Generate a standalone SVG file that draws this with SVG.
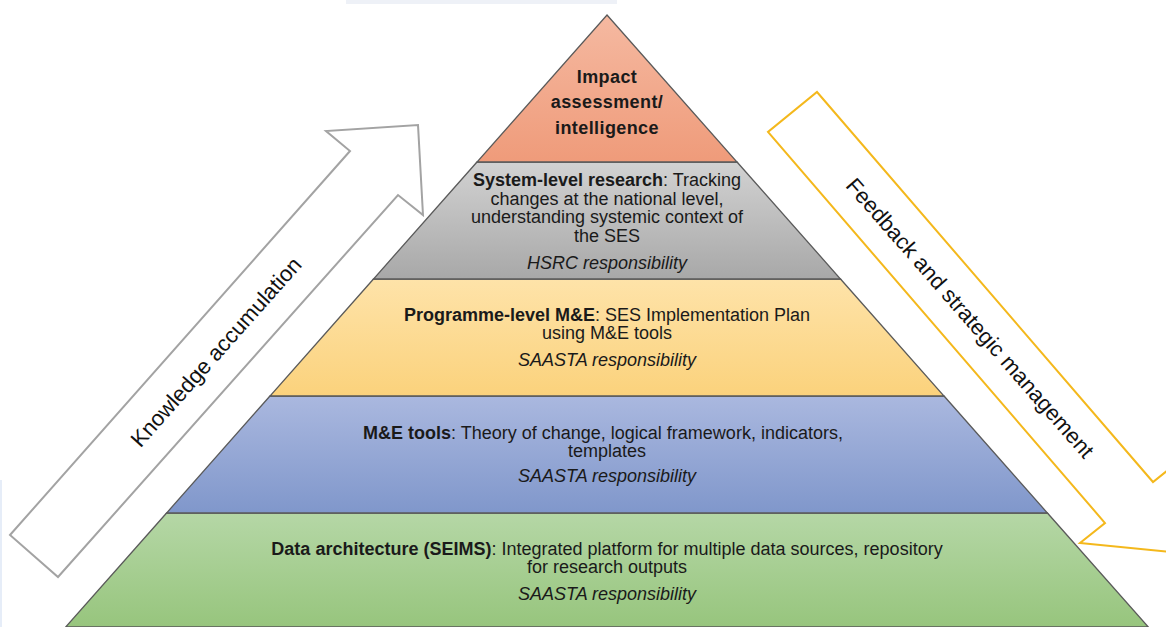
<svg xmlns="http://www.w3.org/2000/svg" width="1166" height="627" viewBox="0 0 1166 627">
  <style>
    .t { font-family: "Liberation Sans", Arial, sans-serif; font-size: 18px; fill: #1a1a1a; text-anchor: middle; }
    .b { font-weight: bold; }
    .i { font-style: italic; }
    .top { font-family: "Liberation Sans", Arial, sans-serif; font-size: 18px; font-weight: bold; fill: #1a1a1a; text-anchor: middle; letter-spacing: 0.4px; }
    .arrowtxt { font-family: "Liberation Sans", Arial, sans-serif; font-size: 22px; fill: #111; text-anchor: middle; dominant-baseline: central; }
    .layer { stroke: #5a5a5a; stroke-width: 1.3; stroke-linejoin: miter; }
  </style>
  <defs>
    <linearGradient id="gTop" x1="0" y1="0" x2="0" y2="1">
      <stop offset="0" stop-color="#f5b9a1"/>
      <stop offset="1" stop-color="#ef9b7a"/>
    </linearGradient>
    <linearGradient id="gGray" x1="0" y1="0" x2="0" y2="1">
      <stop offset="0" stop-color="#d2d2d2"/>
      <stop offset="1" stop-color="#a8a8a8"/>
    </linearGradient>
    <linearGradient id="gOrange" x1="0" y1="0" x2="0" y2="1">
      <stop offset="0" stop-color="#fee3a9"/>
      <stop offset="1" stop-color="#fbd27c"/>
    </linearGradient>
    <linearGradient id="gBlue" x1="0" y1="0" x2="0" y2="1">
      <stop offset="0" stop-color="#aab8df"/>
      <stop offset="1" stop-color="#8097cb"/>
    </linearGradient>
    <linearGradient id="gGreen" x1="0" y1="0" x2="0" y2="1">
      <stop offset="0" stop-color="#b5d7a6"/>
      <stop offset="1" stop-color="#97c57d"/>
    </linearGradient>
  </defs>

  <rect x="0" y="0" width="1166" height="627" fill="#ffffff"/>
  <rect x="346" y="0" width="271" height="4" fill="#eef1f7"/>
  <rect x="0" y="480" width="2" height="147" fill="#e6edf8"/>

  <g id="connectors">
    <g id="knowledge-arrow">
      <polygon points="10,535 350,151 326,131 418,125 423,215 398,195 58,577" fill="#ffffff" stroke="#a3a3a3" stroke-width="2" stroke-linejoin="miter"/>
      <text class="arrowtxt" x="216" y="352" transform="rotate(-48.4 216 352)">Knowledge accumulation</text>
    </g>
    <g id="feedback-arrow">
      <polygon points="817,92 1153,482 1178,462 1171,552 1080,543 1105,523 768,132" fill="#ffffff" stroke="#f4b81c" stroke-width="2" stroke-linejoin="miter"/>
      <text class="arrowtxt" x="970" y="318" transform="rotate(48.8 970 318)">Feedback and strategic management</text>
    </g>
  </g>

  <g id="layer-data">
    <polygon class="layer" points="166.6,513 1047.4,513 1148.3,627 65.7,627" fill="url(#gGreen)"/>
    <text class="t" x="607" y="555"><tspan class="b">Data architecture (SEIMS)</tspan>: Integrated platform for multiple data sources, repository</text>
    <text class="t" x="607" y="573">for research outputs</text>
    <text class="t i" x="607" y="600">SAASTA responsibility</text>
  </g>

  <g id="layer-tools">
    <polygon class="layer" points="270,396 944,396 1047.4,513 166.6,513" fill="url(#gBlue)"/>
    <text class="t" x="603" y="439"><tspan class="b">M&amp;E tools</tspan>: Theory of change, logical framework, indicators,</text>
    <text class="t" x="607" y="457">templates</text>
    <text class="t i" x="607" y="482">SAASTA responsibility</text>
  </g>

  <g id="layer-programme">
    <polygon class="layer" points="373.5,279 840.5,279 944,396 270,396" fill="url(#gOrange)"/>
    <text class="t" x="607" y="321"><tspan class="b">Programme-level M&amp;E</tspan>: SES Implementation Plan</text>
    <text class="t" x="607" y="339">using M&amp;E tools</text>
    <text class="t i" x="607" y="366">SAASTA responsibility</text>
  </g>

  <g id="layer-system">
    <polygon class="layer" points="477,162 737,162 840.5,279 373.5,279" fill="url(#gGray)"/>
    <text class="t" x="607" y="186"><tspan class="b">System-level research</tspan>: Tracking</text>
    <text class="t" x="607" y="205">changes at the national level,</text>
    <text class="t" x="607" y="223">understanding systemic context of</text>
    <text class="t" x="607" y="242">the SES</text>
    <text class="t i" x="607" y="269">HSRC responsibility</text>
  </g>

  <g id="layer-impact">
    <polygon class="layer" points="607,15 737,162 477,162" fill="url(#gTop)"/>
    <text class="top" x="607" y="83">Impact</text>
    <text class="top" x="607" y="108">assessment/</text>
    <text class="top" x="607" y="134">intelligence</text>
  </g>
</svg>
